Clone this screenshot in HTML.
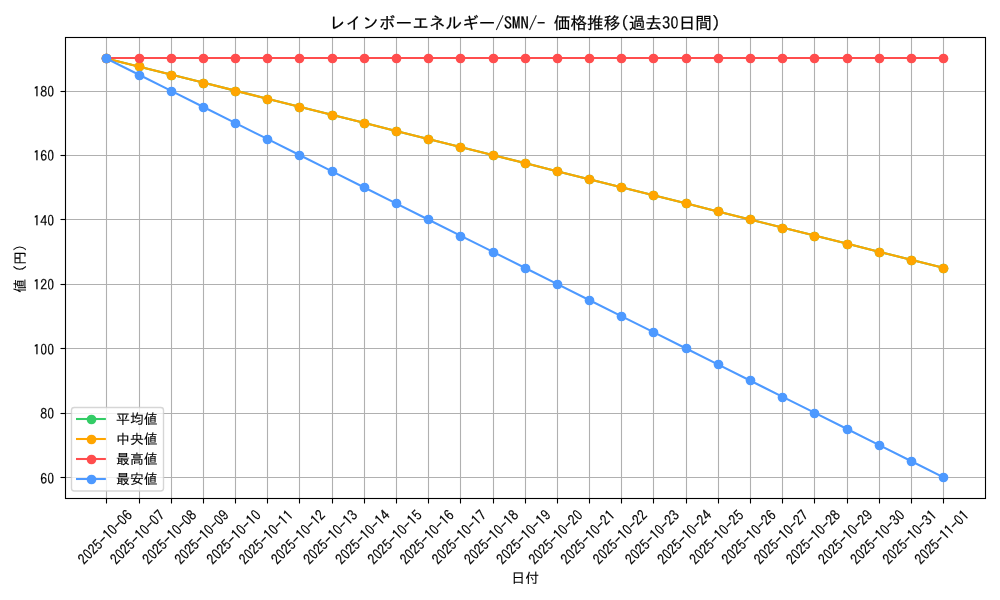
<!DOCTYPE html>
<html lang="ja">
<head>
<meta charset="utf-8">
<title>レインボーエネルギー/SMN/- 価格推移(過去30日間)</title>
<style>
html,body{margin:0;padding:0;background:#fff;width:1000px;height:600px;overflow:hidden}
svg{display:block}
text{fill:#000;font-family:"Liberation Sans","IPAGothic",sans-serif}
text.jp{font-family:"IPAGothic","Liberation Sans",sans-serif}
text.jp{stroke:#000;stroke-width:0.1px}
text.tt{stroke-width:0.22px}
text.hw{stroke:#000;stroke-width:0.18px}
</style>
</head>
<body>
<svg width="1000" height="600" viewBox="0 0 1000 600">
<rect width="1000" height="600" fill="#fff"/>
<defs><clipPath id="ax"><rect x="64.51" y="37.49" width="920.45" height="460.55"/></clipPath></defs>
<g stroke="#b0b0b0" stroke-width="1.11" fill="none">
<path d="M106.5 37.5V498.5"/>
<path d="M139.5 37.5V498.5"/>
<path d="M171.5 37.5V498.5"/>
<path d="M203.5 37.5V498.5"/>
<path d="M235.5 37.5V498.5"/>
<path d="M267.5 37.5V498.5"/>
<path d="M299.5 37.5V498.5"/>
<path d="M332.5 37.5V498.5"/>
<path d="M364.5 37.5V498.5"/>
<path d="M396.5 37.5V498.5"/>
<path d="M428.5 37.5V498.5"/>
<path d="M460.5 37.5V498.5"/>
<path d="M493.5 37.5V498.5"/>
<path d="M525.5 37.5V498.5"/>
<path d="M557.5 37.5V498.5"/>
<path d="M589.5 37.5V498.5"/>
<path d="M621.5 37.5V498.5"/>
<path d="M653.5 37.5V498.5"/>
<path d="M686.5 37.5V498.5"/>
<path d="M718.5 37.5V498.5"/>
<path d="M750.5 37.5V498.5"/>
<path d="M782.5 37.5V498.5"/>
<path d="M814.5 37.5V498.5"/>
<path d="M847.5 37.5V498.5"/>
<path d="M879.5 37.5V498.5"/>
<path d="M911.5 37.5V498.5"/>
<path d="M943.5 37.5V498.5"/>
<path d="M65.5 477.5H985.5"/>
<path d="M65.5 413.5H985.5"/>
<path d="M65.5 348.5H985.5"/>
<path d="M65.5 284.5H985.5"/>
<path d="M65.5 219.5H985.5"/>
<path d="M65.5 155.5H985.5"/>
<path d="M65.5 91.5H985.5"/>
</g>
<g stroke="#000" stroke-width="1.11" fill="none">
<path d="M106.5 498.5V503.5"/>
<path d="M139.5 498.5V503.5"/>
<path d="M171.5 498.5V503.5"/>
<path d="M203.5 498.5V503.5"/>
<path d="M235.5 498.5V503.5"/>
<path d="M267.5 498.5V503.5"/>
<path d="M299.5 498.5V503.5"/>
<path d="M332.5 498.5V503.5"/>
<path d="M364.5 498.5V503.5"/>
<path d="M396.5 498.5V503.5"/>
<path d="M428.5 498.5V503.5"/>
<path d="M460.5 498.5V503.5"/>
<path d="M493.5 498.5V503.5"/>
<path d="M525.5 498.5V503.5"/>
<path d="M557.5 498.5V503.5"/>
<path d="M589.5 498.5V503.5"/>
<path d="M621.5 498.5V503.5"/>
<path d="M653.5 498.5V503.5"/>
<path d="M686.5 498.5V503.5"/>
<path d="M718.5 498.5V503.5"/>
<path d="M750.5 498.5V503.5"/>
<path d="M782.5 498.5V503.5"/>
<path d="M814.5 498.5V503.5"/>
<path d="M847.5 498.5V503.5"/>
<path d="M879.5 498.5V503.5"/>
<path d="M911.5 498.5V503.5"/>
<path d="M943.5 498.5V503.5"/>
<path d="M65.5 477.5H60.5"/>
<path d="M65.5 413.5H60.5"/>
<path d="M65.5 348.5H60.5"/>
<path d="M65.5 284.5H60.5"/>
<path d="M65.5 219.5H60.5"/>
<path d="M65.5 155.5H60.5"/>
<path d="M65.5 91.5H60.5"/>
</g>
<g clip-path="url(#ax)">
<polyline points="106.35,58.42 138.53,66.48 170.72,74.53 202.9,82.58 235.08,90.63 267.27,98.68 299.45,106.73 331.63,114.79 363.82,122.84 396,130.89 428.18,138.94 460.37,146.99 492.55,155.04 524.74,163.09 556.92,171.15 589.1,179.2 621.29,187.25 653.47,195.3 685.65,203.35 717.84,211.4 750.02,219.46 782.2,227.51 814.39,235.56 846.57,243.61 878.75,251.66 910.94,259.71 943.12,267.76" fill="none" stroke="#33cc66" stroke-width="2.083" stroke-linejoin="round" stroke-linecap="square"/>
<g fill="#33cc66">
<circle cx="106.5" cy="58.5" r="4.86"/>
<circle cx="139.5" cy="66.5" r="4.86"/>
<circle cx="171.5" cy="75.5" r="4.86"/>
<circle cx="203.5" cy="83.5" r="4.86"/>
<circle cx="235.5" cy="91.5" r="4.86"/>
<circle cx="267.5" cy="99.5" r="4.86"/>
<circle cx="299.5" cy="107.5" r="4.86"/>
<circle cx="332.5" cy="115.5" r="4.86"/>
<circle cx="364.5" cy="123.5" r="4.86"/>
<circle cx="396.5" cy="131.5" r="4.86"/>
<circle cx="428.5" cy="139.5" r="4.86"/>
<circle cx="460.5" cy="147.5" r="4.86"/>
<circle cx="493.5" cy="155.5" r="4.86"/>
<circle cx="525.5" cy="163.5" r="4.86"/>
<circle cx="557.5" cy="171.5" r="4.86"/>
<circle cx="589.5" cy="179.5" r="4.86"/>
<circle cx="621.5" cy="187.5" r="4.86"/>
<circle cx="653.5" cy="195.5" r="4.86"/>
<circle cx="686.5" cy="203.5" r="4.86"/>
<circle cx="718.5" cy="211.5" r="4.86"/>
<circle cx="750.5" cy="219.5" r="4.86"/>
<circle cx="782.5" cy="228.5" r="4.86"/>
<circle cx="814.5" cy="236.5" r="4.86"/>
<circle cx="847.5" cy="244.5" r="4.86"/>
<circle cx="879.5" cy="252.5" r="4.86"/>
<circle cx="911.5" cy="260.5" r="4.86"/>
<circle cx="943.5" cy="268.5" r="4.86"/>
</g></g>
<g clip-path="url(#ax)">
<polyline points="106.35,58.42 138.53,66.48 170.72,74.53 202.9,82.58 235.08,90.63 267.27,98.68 299.45,106.73 331.63,114.79 363.82,122.84 396,130.89 428.18,138.94 460.37,146.99 492.55,155.04 524.74,163.09 556.92,171.15 589.1,179.2 621.29,187.25 653.47,195.3 685.65,203.35 717.84,211.4 750.02,219.46 782.2,227.51 814.39,235.56 846.57,243.61 878.75,251.66 910.94,259.71 943.12,267.76" fill="none" stroke="#ffa500" stroke-width="2.083" stroke-linejoin="round" stroke-linecap="square"/>
<g fill="#ffa500">
<circle cx="106.5" cy="58.5" r="4.86"/>
<circle cx="139.5" cy="66.5" r="4.86"/>
<circle cx="171.5" cy="75.5" r="4.86"/>
<circle cx="203.5" cy="83.5" r="4.86"/>
<circle cx="235.5" cy="91.5" r="4.86"/>
<circle cx="267.5" cy="99.5" r="4.86"/>
<circle cx="299.5" cy="107.5" r="4.86"/>
<circle cx="332.5" cy="115.5" r="4.86"/>
<circle cx="364.5" cy="123.5" r="4.86"/>
<circle cx="396.5" cy="131.5" r="4.86"/>
<circle cx="428.5" cy="139.5" r="4.86"/>
<circle cx="460.5" cy="147.5" r="4.86"/>
<circle cx="493.5" cy="155.5" r="4.86"/>
<circle cx="525.5" cy="163.5" r="4.86"/>
<circle cx="557.5" cy="171.5" r="4.86"/>
<circle cx="589.5" cy="179.5" r="4.86"/>
<circle cx="621.5" cy="187.5" r="4.86"/>
<circle cx="653.5" cy="195.5" r="4.86"/>
<circle cx="686.5" cy="203.5" r="4.86"/>
<circle cx="718.5" cy="211.5" r="4.86"/>
<circle cx="750.5" cy="219.5" r="4.86"/>
<circle cx="782.5" cy="228.5" r="4.86"/>
<circle cx="814.5" cy="236.5" r="4.86"/>
<circle cx="847.5" cy="244.5" r="4.86"/>
<circle cx="879.5" cy="252.5" r="4.86"/>
<circle cx="911.5" cy="260.5" r="4.86"/>
<circle cx="943.5" cy="268.5" r="4.86"/>
</g></g>
<g clip-path="url(#ax)">
<polyline points="106,58 139,58 171,58 203,58 235,58 267,58 299,58 332,58 364,58 396,58 428,58 460,58 493,58 525,58 557,58 589,58 621,58 653,58 686,58 718,58 750,58 782,58 814,58 847,58 879,58 911,58 943,58" fill="none" stroke="#ff4d4d" stroke-width="2.083" stroke-linejoin="round" stroke-linecap="square"/>
<g fill="#ff4d4d">
<circle cx="106.5" cy="58.5" r="4.86"/>
<circle cx="139.5" cy="58.5" r="4.86"/>
<circle cx="171.5" cy="58.5" r="4.86"/>
<circle cx="203.5" cy="58.5" r="4.86"/>
<circle cx="235.5" cy="58.5" r="4.86"/>
<circle cx="267.5" cy="58.5" r="4.86"/>
<circle cx="299.5" cy="58.5" r="4.86"/>
<circle cx="332.5" cy="58.5" r="4.86"/>
<circle cx="364.5" cy="58.5" r="4.86"/>
<circle cx="396.5" cy="58.5" r="4.86"/>
<circle cx="428.5" cy="58.5" r="4.86"/>
<circle cx="460.5" cy="58.5" r="4.86"/>
<circle cx="493.5" cy="58.5" r="4.86"/>
<circle cx="525.5" cy="58.5" r="4.86"/>
<circle cx="557.5" cy="58.5" r="4.86"/>
<circle cx="589.5" cy="58.5" r="4.86"/>
<circle cx="621.5" cy="58.5" r="4.86"/>
<circle cx="653.5" cy="58.5" r="4.86"/>
<circle cx="686.5" cy="58.5" r="4.86"/>
<circle cx="718.5" cy="58.5" r="4.86"/>
<circle cx="750.5" cy="58.5" r="4.86"/>
<circle cx="782.5" cy="58.5" r="4.86"/>
<circle cx="814.5" cy="58.5" r="4.86"/>
<circle cx="847.5" cy="58.5" r="4.86"/>
<circle cx="879.5" cy="58.5" r="4.86"/>
<circle cx="911.5" cy="58.5" r="4.86"/>
<circle cx="943.5" cy="58.5" r="4.86"/>
</g></g>
<g clip-path="url(#ax)">
<polyline points="106.35,58.42 138.53,74.53 170.72,90.63 202.9,106.73 235.08,122.84 267.27,138.94 299.45,155.04 331.63,171.15 363.82,187.25 396,203.35 428.18,219.46 460.37,235.56 492.55,251.66 524.74,267.76 556.92,283.87 589.1,299.97 621.29,316.07 653.47,332.18 685.65,348.28 717.84,364.38 750.02,380.49 782.2,396.59 814.39,412.69 846.57,428.8 878.75,444.9 910.94,461 943.12,477.11" fill="none" stroke="#4d99ff" stroke-width="2.083" stroke-linejoin="round" stroke-linecap="square"/>
<g fill="#4d99ff">
<circle cx="106.5" cy="58.5" r="4.86"/>
<circle cx="139.5" cy="75.5" r="4.86"/>
<circle cx="171.5" cy="91.5" r="4.86"/>
<circle cx="203.5" cy="107.5" r="4.86"/>
<circle cx="235.5" cy="123.5" r="4.86"/>
<circle cx="267.5" cy="139.5" r="4.86"/>
<circle cx="299.5" cy="155.5" r="4.86"/>
<circle cx="332.5" cy="171.5" r="4.86"/>
<circle cx="364.5" cy="187.5" r="4.86"/>
<circle cx="396.5" cy="203.5" r="4.86"/>
<circle cx="428.5" cy="219.5" r="4.86"/>
<circle cx="460.5" cy="236.5" r="4.86"/>
<circle cx="493.5" cy="252.5" r="4.86"/>
<circle cx="525.5" cy="268.5" r="4.86"/>
<circle cx="557.5" cy="284.5" r="4.86"/>
<circle cx="589.5" cy="300.5" r="4.86"/>
<circle cx="621.5" cy="316.5" r="4.86"/>
<circle cx="653.5" cy="332.5" r="4.86"/>
<circle cx="686.5" cy="348.5" r="4.86"/>
<circle cx="718.5" cy="364.5" r="4.86"/>
<circle cx="750.5" cy="380.5" r="4.86"/>
<circle cx="782.5" cy="397.5" r="4.86"/>
<circle cx="814.5" cy="413.5" r="4.86"/>
<circle cx="847.5" cy="429.5" r="4.86"/>
<circle cx="879.5" cy="445.5" r="4.86"/>
<circle cx="911.5" cy="461.5" r="4.86"/>
<circle cx="943.5" cy="477.5" r="4.86"/>
</g></g>
<rect x="65.5" y="37.5" width="920" height="461" fill="none" stroke="#000" stroke-width="1.11"/>
<g transform="translate(40.2 483.51) scale(1 1.04)"><text class="jp hw" x="0" y="0" font-size="13.89">60</text><ellipse cx="10.42" cy="-5.57" rx="1.42" ry="3.82" fill="#fff"/></g>
<g transform="translate(40.2 419.09) scale(1 1.04)"><text class="jp hw" x="0" y="0" font-size="13.89">80</text><ellipse cx="10.42" cy="-5.57" rx="1.42" ry="3.82" fill="#fff"/></g>
<g transform="translate(33.25 354.68) scale(1 1.04)"><text class="jp hw" x="0" y="0" font-size="13.89">100</text><ellipse cx="10.42" cy="-5.57" rx="1.42" ry="3.82" fill="#fff"/><ellipse cx="17.36" cy="-5.57" rx="1.42" ry="3.82" fill="#fff"/></g>
<g transform="translate(33.25 290.27) scale(1 1.04)"><text class="jp hw" x="0" y="0" font-size="13.89">120</text><ellipse cx="17.36" cy="-5.57" rx="1.42" ry="3.82" fill="#fff"/></g>
<g transform="translate(33.25 225.86) scale(1 1.04)"><text class="jp hw" x="0" y="0" font-size="13.89">140</text><ellipse cx="17.36" cy="-5.57" rx="1.42" ry="3.82" fill="#fff"/></g>
<g transform="translate(33.25 161.44) scale(1 1.04)"><text class="jp hw" x="0" y="0" font-size="13.89">160</text><ellipse cx="17.36" cy="-5.57" rx="1.42" ry="3.82" fill="#fff"/></g>
<g transform="translate(33.25 97.03) scale(1 1.04)"><text class="jp hw" x="0" y="0" font-size="13.89">180</text><ellipse cx="17.36" cy="-5.57" rx="1.42" ry="3.82" fill="#fff"/></g>
<g transform="translate(84.35 565.4) rotate(-45) scale(1 1.04)"><text class="jp hw" x="0" y="0" font-size="13.89">2025-10-06</text><ellipse cx="10.42" cy="-5.57" rx="1.42" ry="3.82" fill="#fff"/><ellipse cx="45.14" cy="-5.57" rx="1.42" ry="3.82" fill="#fff"/><ellipse cx="59.03" cy="-5.57" rx="1.42" ry="3.82" fill="#fff"/></g>
<g transform="translate(116.53 565.4) rotate(-45) scale(1 1.04)"><text class="jp hw" x="0" y="0" font-size="13.89">2025-10-07</text><ellipse cx="10.42" cy="-5.57" rx="1.42" ry="3.82" fill="#fff"/><ellipse cx="45.14" cy="-5.57" rx="1.42" ry="3.82" fill="#fff"/><ellipse cx="59.03" cy="-5.57" rx="1.42" ry="3.82" fill="#fff"/></g>
<g transform="translate(148.72 565.4) rotate(-45) scale(1 1.04)"><text class="jp hw" x="0" y="0" font-size="13.89">2025-10-08</text><ellipse cx="10.42" cy="-5.57" rx="1.42" ry="3.82" fill="#fff"/><ellipse cx="45.14" cy="-5.57" rx="1.42" ry="3.82" fill="#fff"/><ellipse cx="59.03" cy="-5.57" rx="1.42" ry="3.82" fill="#fff"/></g>
<g transform="translate(180.9 565.4) rotate(-45) scale(1 1.04)"><text class="jp hw" x="0" y="0" font-size="13.89">2025-10-09</text><ellipse cx="10.42" cy="-5.57" rx="1.42" ry="3.82" fill="#fff"/><ellipse cx="45.14" cy="-5.57" rx="1.42" ry="3.82" fill="#fff"/><ellipse cx="59.03" cy="-5.57" rx="1.42" ry="3.82" fill="#fff"/></g>
<g transform="translate(213.08 565.4) rotate(-45) scale(1 1.04)"><text class="jp hw" x="0" y="0" font-size="13.89">2025-10-10</text><ellipse cx="10.42" cy="-5.57" rx="1.42" ry="3.82" fill="#fff"/><ellipse cx="45.14" cy="-5.57" rx="1.42" ry="3.82" fill="#fff"/><ellipse cx="65.97" cy="-5.57" rx="1.42" ry="3.82" fill="#fff"/></g>
<g transform="translate(245.27 565.4) rotate(-45) scale(1 1.04)"><text class="jp hw" x="0" y="0" font-size="13.89">2025-10-11</text><ellipse cx="10.42" cy="-5.57" rx="1.42" ry="3.82" fill="#fff"/><ellipse cx="45.14" cy="-5.57" rx="1.42" ry="3.82" fill="#fff"/></g>
<g transform="translate(277.45 565.4) rotate(-45) scale(1 1.04)"><text class="jp hw" x="0" y="0" font-size="13.89">2025-10-12</text><ellipse cx="10.42" cy="-5.57" rx="1.42" ry="3.82" fill="#fff"/><ellipse cx="45.14" cy="-5.57" rx="1.42" ry="3.82" fill="#fff"/></g>
<g transform="translate(309.63 565.4) rotate(-45) scale(1 1.04)"><text class="jp hw" x="0" y="0" font-size="13.89">2025-10-13</text><ellipse cx="10.42" cy="-5.57" rx="1.42" ry="3.82" fill="#fff"/><ellipse cx="45.14" cy="-5.57" rx="1.42" ry="3.82" fill="#fff"/></g>
<g transform="translate(341.82 565.4) rotate(-45) scale(1 1.04)"><text class="jp hw" x="0" y="0" font-size="13.89">2025-10-14</text><ellipse cx="10.42" cy="-5.57" rx="1.42" ry="3.82" fill="#fff"/><ellipse cx="45.14" cy="-5.57" rx="1.42" ry="3.82" fill="#fff"/></g>
<g transform="translate(374 565.4) rotate(-45) scale(1 1.04)"><text class="jp hw" x="0" y="0" font-size="13.89">2025-10-15</text><ellipse cx="10.42" cy="-5.57" rx="1.42" ry="3.82" fill="#fff"/><ellipse cx="45.14" cy="-5.57" rx="1.42" ry="3.82" fill="#fff"/></g>
<g transform="translate(406.18 565.4) rotate(-45) scale(1 1.04)"><text class="jp hw" x="0" y="0" font-size="13.89">2025-10-16</text><ellipse cx="10.42" cy="-5.57" rx="1.42" ry="3.82" fill="#fff"/><ellipse cx="45.14" cy="-5.57" rx="1.42" ry="3.82" fill="#fff"/></g>
<g transform="translate(438.37 565.4) rotate(-45) scale(1 1.04)"><text class="jp hw" x="0" y="0" font-size="13.89">2025-10-17</text><ellipse cx="10.42" cy="-5.57" rx="1.42" ry="3.82" fill="#fff"/><ellipse cx="45.14" cy="-5.57" rx="1.42" ry="3.82" fill="#fff"/></g>
<g transform="translate(470.55 565.4) rotate(-45) scale(1 1.04)"><text class="jp hw" x="0" y="0" font-size="13.89">2025-10-18</text><ellipse cx="10.42" cy="-5.57" rx="1.42" ry="3.82" fill="#fff"/><ellipse cx="45.14" cy="-5.57" rx="1.42" ry="3.82" fill="#fff"/></g>
<g transform="translate(502.74 565.4) rotate(-45) scale(1 1.04)"><text class="jp hw" x="0" y="0" font-size="13.89">2025-10-19</text><ellipse cx="10.42" cy="-5.57" rx="1.42" ry="3.82" fill="#fff"/><ellipse cx="45.14" cy="-5.57" rx="1.42" ry="3.82" fill="#fff"/></g>
<g transform="translate(534.92 565.4) rotate(-45) scale(1 1.04)"><text class="jp hw" x="0" y="0" font-size="13.89">2025-10-20</text><ellipse cx="10.42" cy="-5.57" rx="1.42" ry="3.82" fill="#fff"/><ellipse cx="45.14" cy="-5.57" rx="1.42" ry="3.82" fill="#fff"/><ellipse cx="65.97" cy="-5.57" rx="1.42" ry="3.82" fill="#fff"/></g>
<g transform="translate(567.1 565.4) rotate(-45) scale(1 1.04)"><text class="jp hw" x="0" y="0" font-size="13.89">2025-10-21</text><ellipse cx="10.42" cy="-5.57" rx="1.42" ry="3.82" fill="#fff"/><ellipse cx="45.14" cy="-5.57" rx="1.42" ry="3.82" fill="#fff"/></g>
<g transform="translate(599.29 565.4) rotate(-45) scale(1 1.04)"><text class="jp hw" x="0" y="0" font-size="13.89">2025-10-22</text><ellipse cx="10.42" cy="-5.57" rx="1.42" ry="3.82" fill="#fff"/><ellipse cx="45.14" cy="-5.57" rx="1.42" ry="3.82" fill="#fff"/></g>
<g transform="translate(631.47 565.4) rotate(-45) scale(1 1.04)"><text class="jp hw" x="0" y="0" font-size="13.89">2025-10-23</text><ellipse cx="10.42" cy="-5.57" rx="1.42" ry="3.82" fill="#fff"/><ellipse cx="45.14" cy="-5.57" rx="1.42" ry="3.82" fill="#fff"/></g>
<g transform="translate(663.65 565.4) rotate(-45) scale(1 1.04)"><text class="jp hw" x="0" y="0" font-size="13.89">2025-10-24</text><ellipse cx="10.42" cy="-5.57" rx="1.42" ry="3.82" fill="#fff"/><ellipse cx="45.14" cy="-5.57" rx="1.42" ry="3.82" fill="#fff"/></g>
<g transform="translate(695.84 565.4) rotate(-45) scale(1 1.04)"><text class="jp hw" x="0" y="0" font-size="13.89">2025-10-25</text><ellipse cx="10.42" cy="-5.57" rx="1.42" ry="3.82" fill="#fff"/><ellipse cx="45.14" cy="-5.57" rx="1.42" ry="3.82" fill="#fff"/></g>
<g transform="translate(728.02 565.4) rotate(-45) scale(1 1.04)"><text class="jp hw" x="0" y="0" font-size="13.89">2025-10-26</text><ellipse cx="10.42" cy="-5.57" rx="1.42" ry="3.82" fill="#fff"/><ellipse cx="45.14" cy="-5.57" rx="1.42" ry="3.82" fill="#fff"/></g>
<g transform="translate(760.2 565.4) rotate(-45) scale(1 1.04)"><text class="jp hw" x="0" y="0" font-size="13.89">2025-10-27</text><ellipse cx="10.42" cy="-5.57" rx="1.42" ry="3.82" fill="#fff"/><ellipse cx="45.14" cy="-5.57" rx="1.42" ry="3.82" fill="#fff"/></g>
<g transform="translate(792.39 565.4) rotate(-45) scale(1 1.04)"><text class="jp hw" x="0" y="0" font-size="13.89">2025-10-28</text><ellipse cx="10.42" cy="-5.57" rx="1.42" ry="3.82" fill="#fff"/><ellipse cx="45.14" cy="-5.57" rx="1.42" ry="3.82" fill="#fff"/></g>
<g transform="translate(824.57 565.4) rotate(-45) scale(1 1.04)"><text class="jp hw" x="0" y="0" font-size="13.89">2025-10-29</text><ellipse cx="10.42" cy="-5.57" rx="1.42" ry="3.82" fill="#fff"/><ellipse cx="45.14" cy="-5.57" rx="1.42" ry="3.82" fill="#fff"/></g>
<g transform="translate(856.75 565.4) rotate(-45) scale(1 1.04)"><text class="jp hw" x="0" y="0" font-size="13.89">2025-10-30</text><ellipse cx="10.42" cy="-5.57" rx="1.42" ry="3.82" fill="#fff"/><ellipse cx="45.14" cy="-5.57" rx="1.42" ry="3.82" fill="#fff"/><ellipse cx="65.97" cy="-5.57" rx="1.42" ry="3.82" fill="#fff"/></g>
<g transform="translate(888.94 565.4) rotate(-45) scale(1 1.04)"><text class="jp hw" x="0" y="0" font-size="13.89">2025-10-31</text><ellipse cx="10.42" cy="-5.57" rx="1.42" ry="3.82" fill="#fff"/><ellipse cx="45.14" cy="-5.57" rx="1.42" ry="3.82" fill="#fff"/></g>
<g transform="translate(921.12 565.4) rotate(-45) scale(1 1.04)"><text class="jp hw" x="0" y="0" font-size="13.89">2025-11-01</text><ellipse cx="10.42" cy="-5.57" rx="1.42" ry="3.82" fill="#fff"/><ellipse cx="59.03" cy="-5.57" rx="1.42" ry="3.82" fill="#fff"/></g>
<g id="title">
<text class="jp tt" x="328.9" y="29.07" font-size="16.67">レインボーエネルギー/SMN/- 価格推移(過去30日間)</text>
<ellipse cx="674.73" cy="22.39" rx="1.7" ry="4.58" fill="#fff"/>
</g>
<text class="jp" x="511.25" y="582.8" font-size="13.89">日付</text>
<g transform="translate(24.8 292.87) rotate(-90)">
<text class="jp" x="0" y="0" font-size="13.89">値 (円)</text>
</g>
<rect x="71.49" y="407.45" width="92.01" height="83.51" rx="2.78" ry="2.78" fill="#fff" fill-opacity="0.8" stroke="#ccc" stroke-opacity="0.8" stroke-width="1.39"/>
<path d="M77.05 419H104.83" stroke="#33cc66" stroke-width="2.083" stroke-linecap="square" fill="none"/>
<circle cx="91.5" cy="419.5" r="4.86" fill="#33cc66"/>
<text class="jp" x="116" y="424.14" font-size="13.89">平均値</text>
<path d="M77.05 439H104.83" stroke="#ffa500" stroke-width="2.083" stroke-linecap="square" fill="none"/>
<circle cx="91.5" cy="439.5" r="4.86" fill="#ffa500"/>
<text class="jp" x="116" y="444.09" font-size="13.89">中央値</text>
<path d="M77.05 459H104.83" stroke="#ff4d4d" stroke-width="2.083" stroke-linecap="square" fill="none"/>
<circle cx="91.5" cy="459.5" r="4.86" fill="#ff4d4d"/>
<text class="jp" x="116" y="464.08" font-size="13.89">最高値</text>
<path d="M77.05 479H104.83" stroke="#4d99ff" stroke-width="2.083" stroke-linecap="square" fill="none"/>
<circle cx="91.5" cy="479.5" r="4.86" fill="#4d99ff"/>
<text class="jp" x="116" y="484.21" font-size="13.89">最安値</text>
</svg>
</body>
</html>
